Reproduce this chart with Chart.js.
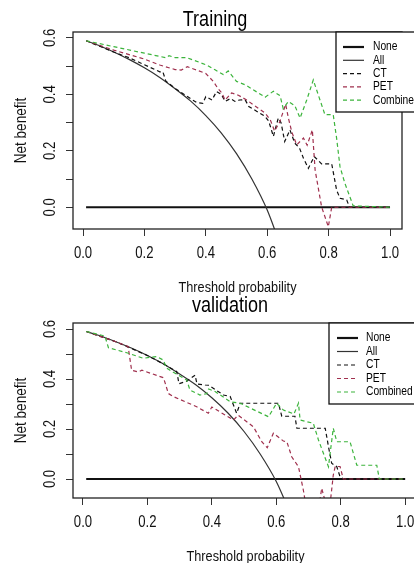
<!DOCTYPE html>
<html>
<head>
<meta charset="utf-8">
<script src="https://cdn.jsdelivr.net/npm/chart.js@4.4.1/dist/chart.umd.min.js"></script>
<style>
  html, body { margin:0; padding:0; background:#fff; width:414px; height:563px; overflow:hidden; position:relative; }
  canvas { position:absolute; left:0; }
  .ttl { position:absolute; transform:translate(-50%,-50%) scaleX(0.82); white-space:nowrap; color:#000;
         font-family:'Liberation Sans',Arial,sans-serif; font-size:22px; }
</style>
</head>
<body>
<canvas id="trainChart" width="414" height="300" style="top:0"></canvas>
<canvas id="validChart" width="440" height="272" style="top:296px"></canvas>
<div class="ttl" style="left:215px;top:19px">Training</div>
<div class="ttl" style="left:230px;top:305px">validation</div>

<script>
/* ── Axis ticks ── */
const xTicks      = [0, 0.2, 0.4, 0.6, 0.8, 1.0];
const yTicks      = [0, 0.1, 0.2, 0.3, 0.4, 0.5, 0.6];
const yLabelTicks = [0, 0.2, 0.4, 0.6];
const seriesNames = ['None', 'All', 'CT', 'PET', 'Combined'];

/* ── Reference lines (same in both panels) ── */
const noneX = [0.01, 1.0];
const noneY = [0, 0];
const allX  = [0.01, 0.05, 0.1, 0.15, 0.2, 0.25, 0.3, 0.35, 0.4, 0.45, 0.5, 0.55, 0.6, 0.65];
const allY  = [0.59, 0.574, 0.55, 0.524, 0.494, 0.46, 0.42, 0.377, 0.325, 0.264, 0.19, 0.10, -0.01, -0.157];

/* ── Training ── */
const trainCtX = [0.01, 0.1, 0.15, 0.2, 0.25, 0.26, 0.27, 0.3, 0.35, 0.37, 0.39, 0.40, 0.42, 0.435, 0.45, 0.463, 0.48, 0.495, 0.51, 0.528, 0.54, 0.593, 0.605, 0.62, 0.636, 0.645, 0.657, 0.674, 0.69, 0.705, 0.718, 0.734, 0.753, 0.777, 0.81, 0.826, 0.837, 0.859, 0.868, 1.0];
const trainCtY = [0.59, 0.55, 0.53, 0.505, 0.48, 0.48, 0.447, 0.421, 0.385, 0.371, 0.368, 0.392, 0.38, 0.41, 0.40, 0.375, 0.385, 0.375, 0.38, 0.381, 0.357, 0.322, 0.305, 0.251, 0.316, 0.30, 0.233, 0.274, 0.227, 0.21, 0.174, 0.138, 0.18, 0.154, 0.154, 0.061, 0.032, 0.026, 0.0, 0.0];
const trainPetX = [0.01, 0.1, 0.2, 0.25, 0.3, 0.32, 0.34, 0.36, 0.40, 0.425, 0.44, 0.452, 0.463, 0.484, 0.506, 0.533, 0.593, 0.61, 0.624, 0.641, 0.66, 0.669, 0.68, 0.696, 0.718, 0.73, 0.747, 0.756, 0.777, 0.799, 0.81, 1.0];
const trainPetY = [0.59, 0.557, 0.525, 0.504, 0.488, 0.486, 0.498, 0.49, 0.474, 0.445, 0.42, 0.405, 0.38, 0.405, 0.397, 0.38, 0.334, 0.31, 0.27, 0.303, 0.365, 0.316, 0.267, 0.221, 0.245, 0.22, 0.274, 0.132, 0.002, -0.069, 0.0, 0.0];
const trainCombX = [0.01, 0.1, 0.2, 0.27, 0.28, 0.3, 0.338, 0.403, 0.43, 0.457, 0.473, 0.5, 0.53, 0.593, 0.62, 0.642, 0.652, 0.669, 0.69, 0.707, 0.729, 0.75, 0.788, 0.815, 0.826, 0.837, 0.853, 0.88, 1.0];
const trainCombY = [0.59, 0.569, 0.546, 0.53, 0.537, 0.53, 0.53, 0.504, 0.487, 0.47, 0.483, 0.446, 0.433, 0.39, 0.411, 0.395, 0.35, 0.375, 0.36, 0.316, 0.381, 0.451, 0.328, 0.328, 0.245, 0.144, 0.085, 0.005, 0.0];

/* ── Validation ── */
const validCtX = [0.01, 0.1, 0.2, 0.25, 0.291, 0.298, 0.32, 0.348, 0.354, 0.379, 0.39, 0.436, 0.457, 0.477, 0.488, 0.607, 0.617, 0.658, 0.664, 0.752, 0.762, 0.772, 0.788, 0.798, 0.81, 1.0];
const validCtY = [0.59, 0.55, 0.494, 0.46, 0.43, 0.381, 0.39, 0.415, 0.38, 0.376, 0.375, 0.336, 0.33, 0.263, 0.303, 0.303, 0.251, 0.251, 0.203, 0.203, 0.13, 0.063, 0.049, 0.009, 0.0, 0.0];
const validPetX = [0.01, 0.1, 0.14, 0.151, 0.172, 0.183, 0.25, 0.265, 0.28, 0.353, 0.389, 0.40, 0.467, 0.482, 0.529, 0.555, 0.572, 0.591, 0.622, 0.633, 0.648, 0.669, 0.684, 0.69, 0.735, 0.741, 0.752, 0.768, 0.777, 0.783, 0.798, 0.808, 1.0];
const validPetY = [0.59, 0.55, 0.53, 0.435, 0.428, 0.435, 0.405, 0.342, 0.33, 0.289, 0.263, 0.288, 0.236, 0.255, 0.209, 0.149, 0.125, 0.183, 0.152, 0.149, 0.089, 0.049, -0.044, -0.09, -0.09, -0.037, -0.09, -0.09, 0.016, 0.05, 0.05, 0.0, 0.0];
const validCombX = [0.01, 0.068, 0.079, 0.136, 0.187, 0.229, 0.249, 0.26, 0.29, 0.322, 0.332, 0.363, 0.384, 0.39, 0.41, 0.457, 0.488, 0.576, 0.601, 0.622, 0.655, 0.669, 0.674, 0.715, 0.731, 0.762, 0.777, 0.788, 0.829, 0.85, 0.912, 0.92, 1.0];
const validCombY = [0.59, 0.572, 0.525, 0.505, 0.483, 0.49, 0.476, 0.443, 0.42, 0.396, 0.356, 0.336, 0.341, 0.36, 0.35, 0.309, 0.303, 0.249, 0.303, 0.276, 0.26, 0.303, 0.236, 0.223, 0.156, 0.049, 0.203, 0.149, 0.149, 0.055, 0.055, 0.0, 0.0];

const FONT = "'Liberation Sans',Arial,sans-serif";
const SQUEEZE = 0.82;   // source figure is horizontally condensed

/* line looks per series, same order as seriesNames */
const LOOKS = [
  { color:'#111',    width:2.2, dash:[]    , order:5 },
  { color:'#333',    width:1.2, dash:[]    , order:4, smooth:true },
  { color:'#111',    width:1.2, dash:[4,3] , order:3 },
  { color:'#a0304e', width:1.2, dash:[4,3] , order:2 },
  { color:'#3cb43c', width:1.2, dash:[4,3] , order:1 },
];

const pts = (xs, ys) => xs.map((x, i) => ({ x, y: ys[i] }));

function narrowText(ctx, text, x, y, size, rotated) {
  ctx.save();
  ctx.translate(x, y);
  if (rotated) ctx.rotate(-Math.PI / 2);
  ctx.scale(SQUEEZE, 1);
  ctx.font = size + 'px ' + FONT;
  ctx.fillText(text, 0, 0);
  ctx.restore();
}

/* ── R-like box, axis text and legend ── */
const rStyle = {
  id: 'rStyle',
  afterDraw(chart, args, opts) {
    const { ctx, chartArea: a, scales: { x, y } } = chart;
    ctx.save();
    ctx.strokeStyle = '#222';
    ctx.lineWidth = 1.3;
    ctx.strokeRect(a.left, a.top, a.right - a.left, a.bottom - a.top);

    ctx.fillStyle = '#111';
    ctx.textAlign = 'center';
    ctx.textBaseline = 'middle';
    yLabelTicks.forEach(v => narrowText(ctx, v.toFixed(1), 51, y.getPixelForValue(v), 16, true));
    xTicks.forEach(v => narrowText(ctx, v.toFixed(1), x.getPixelForValue(v), opts.xLabelY, 16, false));
    narrowText(ctx, 'Threshold probability', (a.left + a.right) / 2, opts.xTitleY, 15.5, false);
    narrowText(ctx, 'Net benefit', 21, (a.top + a.bottom) / 2, 16.5, true);

    const L = opts.legend;
    ctx.fillStyle = '#fff';
    ctx.fillRect(L.x, L.y, L.w, L.h);
    ctx.strokeStyle = '#111';
    ctx.lineWidth = 1.3;
    ctx.strokeRect(L.x, L.y, L.w, L.h);
    ctx.textAlign = 'left';
    chart.data.datasets.forEach((ds, i) => {
      const yy = L.rowY + i * L.rowH;
      ctx.strokeStyle = ds.borderColor;
      ctx.lineWidth = ds.borderWidth;
      ctx.setLineDash(ds.borderDash);
      ctx.beginPath();
      ctx.moveTo(L.lineX, yy);
      ctx.lineTo(L.lineX + L.lineW, yy);
      ctx.stroke();
      ctx.setLineDash([]);
      ctx.fillStyle = '#000';
      narrowText(ctx, ds.label, L.textX, yy, 12.5, false);
    });
    ctx.restore();
  }
};

function buildPanel(id, series, cfg) {
  const datasets = series.map((s, i) => ({
    label: seriesNames[i],
    data: pts(s[0], s[1]),
    borderColor: LOOKS[i].color,
    borderWidth: LOOKS[i].width,
    borderDash: LOOKS[i].dash,
    cubicInterpolationMode: LOOKS[i].smooth ? 'monotone' : 'default',
    tension: 0,
    pointRadius: 0,
    fill: false,
    order: LOOKS[i].order,
  }));
  const tickGrid = { drawOnChartArea:false, drawTicks:true, tickLength:7, color:'#333', lineWidth:1 };
  return new Chart(document.getElementById(id), {
    type: 'line',
    data: { datasets },
    plugins: [rStyle],
    options: {
      responsive:false, animation:false, devicePixelRatio:1,
      layout: { padding: { top:cfg.top, right:cfg.right, left:0, bottom:0 } },
      plugins: {
        legend: { display:false }, tooltip: { enabled:false },
        rStyle: { xLabelY:cfg.xLabelY, xTitleY:cfg.xTitleY, legend:cfg.legend },
      },
      scales: {
        x: {
          type:'linear', min:cfg.xMin, max:cfg.xMax,
          afterBuildTicks: s => { s.ticks = xTicks.map(v => ({ value:v })); },
          afterFit: s => { s.height = cfg.xHeight; },
          grid: tickGrid, border: { display:false },
          ticks: { display:false },
        },
        y: {
          type:'linear', min:cfg.yMin, max:cfg.yMax,
          afterBuildTicks: s => { s.ticks = yTicks.map(v => ({ value:v })); },
          afterFit: s => { s.width = 73; },
          grid: tickGrid, border: { display:false },
          ticks: { display:false },
        },
      },
    },
  });
}

buildPanel('trainChart',
  [[noneX, noneY], [allX, allY], [trainCtX, trainCtY], [trainPetX, trainPetY], [trainCombX, trainCombY]],
  { top:32, right:12, xHeight:71, xLabelY:254, xTitleY:288,
    xMin:-0.0326, xMax:1.039, yMin:-0.077, yMax:0.621,
    legend:{ x:336, y:32, w:110, h:80, lineX:343, lineW:21, textX:373, rowY:47, rowH:13.3 } });

buildPanel('validChart',
  [[noneX, noneY], [allX, allY], [validCtX, validCtY], [validPetX, validPetY], [validCombX, validCombY]],
  { top:27, right:22, xHeight:70, xLabelY:227, xTitleY:261,
    xMin:-0.031, xMax:1.040, yMin:-0.076, yMax:0.624,
    legend:{ x:329, y:27, w:120, h:81, lineX:337, lineW:21, textX:366, rowY:42, rowH:13.5 } });
</script>
</body>
</html>
